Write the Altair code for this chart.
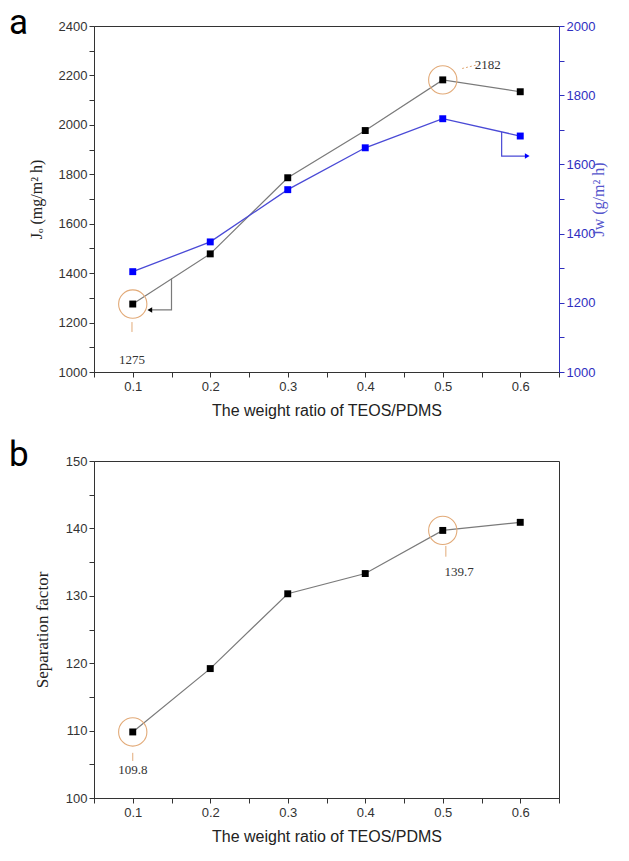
import altair as alt
import pandas as pd

# ---------------- data ----------------
ratio = [0.1, 0.2, 0.3, 0.4, 0.5, 0.6]
jo_flux = [1275, 1478, 1786, 1977, 2182, 2134]
jw_flux = [1290, 1376, 1527, 1648, 1732, 1682]
sep_factor = [109.8, 119.2, 130.3, 133.3, 139.7, 140.9]

x_ticks = [0.05, 0.1, 0.15, 0.2, 0.25, 0.3, 0.35, 0.4, 0.45, 0.5, 0.55, 0.6, 0.65]
jo_ticks = list(range(1000, 2401, 100))
jw_ticks = list(range(1000, 2001, 100))
sep_ticks = list(range(100, 151, 5))

# highlighted points (circled) and their labels
jo_mark_x = [0.1, 0.5]
jo_mark_y = [1275, 2182]
jo_label_text = ["1275", "2182"]
jo_label_x = [0.099, 0.558]
jo_label_y = [1050, 2242]
jo_leader_x0 = [0.099, 0.525]
jo_leader_x1 = [0.099, 0.546]
jo_leader_y0 = [1202, 2228]
jo_leader_y1 = [1162, 2244]

sep_mark_x = [0.1, 0.5]
sep_mark_y = [109.8, 139.7]
sep_label_text = ["109.8", "139.7"]
sep_label_x = [0.1, 0.521]
sep_label_y = [104.2, 133.5]
sep_leader_x0 = [0.1, 0.504]
sep_leader_x1 = [0.1, 0.504]
sep_leader_y0 = [106.7, 137.4]
sep_leader_y1 = [105.5, 135.8]

# axis-pointer brackets (data units)
jo_bracket_x = [0.15, 0.15, 0.122]
jo_bracket_y = [1377, 1251, 1251]
jw_bracket_x = [0.576, 0.576, 0.609]
jw_bracket_y = [1694, 1624, 1624]

# ---------------- style ----------------
ORANGE = "#e2aa78"
BLUE_LINE = "#4a4ad6"
BLUE_PT = "#0000ff"
BLUE_AX = "#2f2fbf"
GRAY_LINE = "#7a7a7a"
SANS = "Liberation Sans"
SERIF = "Liberation Serif"
LBL = dict(labelFont=SANS, labelFontSize=13, labelColor="#333",
           tickColor="#333", domainColor="#333", tickSize=5, grid=False)

x_scale = alt.Scale(domain=[0.05, 0.65], nice=False, zero=False)
x_axis = alt.Axis(
    values=x_ticks,
    labelExpr="(round(datum.value*100) % 10 == 0) ? format(datum.value, '.1f') : ''",
    title="The weight ratio of TEOS/PDMS",
    titleFont=SANS, titleFontSize=16, titleFontWeight="normal", titlePadding=9, titleColor="#222",
    labelPadding=3, **LBL,
)


def X(field):
    return alt.X(f"{field}:Q", scale=x_scale, axis=x_axis)


jo_scale = alt.Scale(domain=[1000, 2400], nice=False, zero=False)
jo_axis = alt.Axis(
    values=jo_ticks,
    labelExpr="datum.value % 200 == 0 ? format(datum.value, 'd') : ''",
    title="Jₒ (mg/m² h)", titlePadding=14,
    titleFont=SERIF, titleFontSize=16, titleFontWeight="normal", titleColor="#222",
    **LBL,
)
jw_scale = alt.Scale(domain=[1000, 2000], nice=False, zero=False)
jw_axis = alt.Axis(
    orient="right",
    values=jw_ticks,
    labelExpr="datum.value % 200 == 0 ? format(datum.value, 'd') : ''",
    title="Jw (g/m² h)", titleAngle=270, titlePadding=12,
    titleFont=SERIF, titleFontSize=16, titleFontWeight="normal", titleColor="#5555cc",
    labelFont=SANS, labelFontSize=13, labelColor=BLUE_AX,
    domainColor=BLUE_AX, tickColor=BLUE_AX, tickSize=5, grid=False,
)
sep_scale = alt.Scale(domain=[100, 150], nice=False, zero=False)
sep_axis = alt.Axis(
    values=sep_ticks,
    labelExpr="datum.value % 10 == 0 ? format(datum.value, 'd') : ''",
    title="Separation factor", titlePadding=14,
    titleFont=SERIF, titleFontSize=17, titleFontWeight="normal", titleColor="#222",
    **LBL,
)


def YL(field):
    return alt.Y(f"{field}:Q", scale=jo_scale, axis=jo_axis)


def YR(field):
    return alt.Y(f"{field}:Q", scale=jw_scale, axis=jw_axis)


def YS(field):
    return alt.Y(f"{field}:Q", scale=sep_scale, axis=sep_axis)


# ---------------- top chart ----------------
df_top = pd.DataFrame({"ratio": ratio, "jo": jo_flux, "jw": jw_flux})
df_jo_mark = pd.DataFrame({"x": jo_mark_x, "y": jo_mark_y})
df_jo_lab = pd.DataFrame({"x": jo_label_x, "y": jo_label_y, "t": jo_label_text})
df_jo_lead = pd.DataFrame({"x0": jo_leader_x0, "x1": jo_leader_x1,
                           "y0": jo_leader_y0, "y1": jo_leader_y1,
                           "dash": ["solid", "dash"]})
df_jo_br = pd.DataFrame({"x": jo_bracket_x, "y": jo_bracket_y, "k": [0, 1, 2]})
df_jw_br = pd.DataFrame({"x": jw_bracket_x, "y": jw_bracket_y, "k": [0, 1, 2]})

base_top = alt.Chart(df_top)

left_layers = [
    base_top.mark_line(color=GRAY_LINE, strokeWidth=1.2).encode(x=X("ratio"), y=YL("jo")),
    alt.Chart(df_jo_br).mark_line(color=GRAY_LINE, strokeWidth=1.2).encode(
        x=X("x"), y=YL("y"), order="k:O"),
    alt.Chart(df_jo_br[df_jo_br.k == 2]).mark_point(
        shape="triangle-left", filled=True, size=30, color="black", opacity=1).encode(
        x=X("x"), y=YL("y")),
    base_top.mark_square(color="black", size=48, opacity=1).encode(x=X("ratio"), y=YL("jo")),
    alt.Chart(df_jo_mark).mark_point(shape="circle", size=800, color=ORANGE,
                                     strokeWidth=1.1, filled=False, opacity=1).encode(
        x=X("x"), y=YL("y")),
    alt.Chart(df_jo_lead[df_jo_lead.dash == "solid"]).mark_rule(color=ORANGE, strokeWidth=1).encode(
        x=X("x0"), x2="x1:Q", y=YL("y0"), y2="y1:Q"),
    alt.Chart(df_jo_lead[df_jo_lead.dash == "dash"]).mark_rule(
        color=ORANGE, strokeWidth=1, strokeDash=[2, 2]).encode(
        x=X("x0"), x2="x1:Q", y=YL("y0"), y2="y1:Q"),
    alt.Chart(df_jo_lab).mark_text(font=SERIF, fontSize=13, color="#333").encode(
        x=X("x"), y=YL("y"), text="t:N"),
    alt.Chart(pd.DataFrame({"t": ["a"]})).mark_text(
        font="Roboto", fontSize=35, color="black", align="left", baseline="alphabetic").encode(
        text="t:N", x=alt.value(-85), y=alt.value(8)),
]

right_layers = [
    base_top.mark_line(color=BLUE_LINE, strokeWidth=1.3).encode(x=X("ratio"), y=YR("jw")),
    alt.Chart(df_jw_br).mark_line(color=BLUE_LINE, strokeWidth=1.2).encode(
        x=X("x"), y=YR("y"), order="k:O"),
    alt.Chart(df_jw_br[df_jw_br.k == 2]).mark_point(
        shape="triangle-right", filled=True, size=30, color=BLUE_PT, opacity=1).encode(
        x=X("x"), y=YR("y")),
    base_top.mark_square(color=BLUE_PT, size=48, opacity=1).encode(x=X("ratio"), y=YR("jw")),
]

top = alt.layer(alt.layer(*left_layers), alt.layer(*right_layers)).resolve_scale(
    y="independent").properties(width=465, height=346)

# ---------------- bottom chart ----------------
df_bot = pd.DataFrame({"ratio": ratio, "sep": sep_factor})
df_sep_mark = pd.DataFrame({"x": sep_mark_x, "y": sep_mark_y})
df_sep_lab = pd.DataFrame({"x": sep_label_x, "y": sep_label_y, "t": sep_label_text})
df_sep_lead = pd.DataFrame({"x0": sep_leader_x0, "x1": sep_leader_x1,
                            "y0": sep_leader_y0, "y1": sep_leader_y1})
base_bot = alt.Chart(df_bot)

bottom = alt.layer(
    base_bot.mark_line(color=GRAY_LINE, strokeWidth=1.2).encode(x=X("ratio"), y=YS("sep")),
    base_bot.mark_square(color="black", size=48, opacity=1).encode(x=X("ratio"), y=YS("sep")),
    alt.Chart(df_sep_mark).mark_point(shape="circle", size=800, color=ORANGE,
                                      strokeWidth=1.1, filled=False, opacity=1).encode(
        x=X("x"), y=YS("y")),
    alt.Chart(df_sep_lead).mark_rule(color=ORANGE, strokeWidth=1).encode(
        x=X("x0"), x2="x1:Q", y=YS("y0"), y2="y1:Q"),
    alt.Chart(df_sep_lab).mark_text(font=SERIF, fontSize=13, color="#333").encode(
        x=X("x"), y=YS("y"), text="t:N"),
    alt.Chart(pd.DataFrame({"t": ["b"]})).mark_text(
        font="Roboto", fontSize=35, color="black", align="left", baseline="alphabetic").encode(
        text="t:N", x=alt.value(-85), y=alt.value(5)),
).properties(width=465, height=337)

chart = alt.vconcat(top, bottom, spacing=18).resolve_scale(
    x="independent", y="independent"
).properties(
    padding={"left": 8, "top": 5, "right": 5, "bottom": 5}
).configure_view(stroke="#333", strokeWidth=1)

chart.save("out.html", embed_options={"renderer": "svg", "actions": False})
